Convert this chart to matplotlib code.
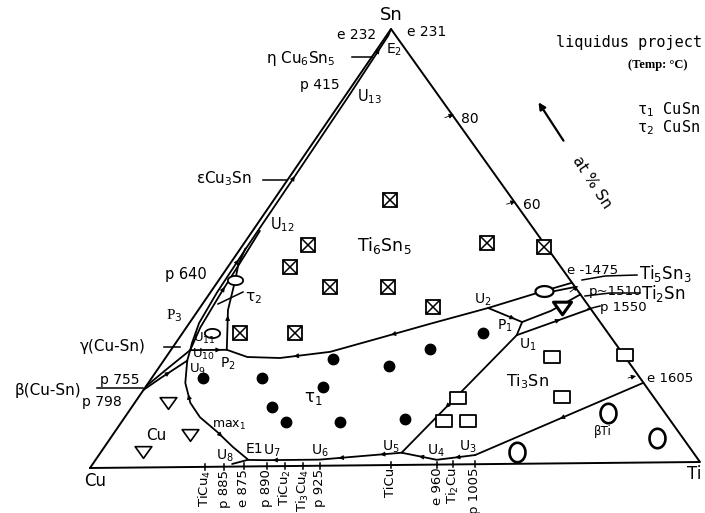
import numpy as np
import matplotlib
matplotlib.use("Agg")
import matplotlib.pyplot as plt
from matplotlib.path import Path

# ---------------- data (compositions in at.% : Ti, Sn) ----------------
tau1_ti = [8.5, 18.2, 27.8, 37.8, 42.6, 49.6, 29.3, 23.1, 27.1, 36.1, 46.4]
tau1_sn = [20.4, 20.3, 24.4, 22.7, 26.5, 30.1, 18.0, 13.6, 10.1, 10.0, 10.5]

ti6sn5_ti = [19.2, 40.1, 49.9, 10.7, 10.3, 19.1, 28.7, 38.4, 9.5, 18.6]
ti6sn5_sn = [60.8, 50.7, 49.7, 50.6, 45.6, 41.0, 40.8, 36.2, 30.6, 30.5]

ti3sn_ti = [63.7, 75.5, 69.9, 52.8, 53.1, 57.1]
ti3sn_sn = [24.4, 24.7, 15.2, 15.2, 10.0, 9.9]

cu_ti = [5.5, 12.8, 6.9]
cu_sn = [14.7, 7.3, 3.6]

ti2sn_ti = [59.8]
ti2sn_sn = [35.6]

bti_ti = [68.7, 79.3, 90.2]
bti_sn = [2.7, 11.4, 5.6]

tau2_ti = [2.7, 4.9]
tau2_sn = [42.8, 30.7]

ti5sn3_ti = [54.9]
ti5sn3_sn = [39.6]

# univariant lines (Ti, Sn)
line_e2_ti = [2.7, 1.6, 1.1, 0.9, 0.8, 0.6, 0.3, 0.0]
line_e2_sn = [28.4, 33.0, 40.0, 50.0, 65.0, 85.0, 98.5, 100.0]
line_u12_ti = [3.2, 2.3, 1.8, 1.5, 1.2]
line_u12_sn = [26.8, 32.0, 40.0, 48.0, 54.0]
tau2_line_ti = [9.2, 4.9, 2.7, 1.5, 0.8]
tau2_line_sn = [26.8, 35.9, 42.8, 46.2, 50.0]
p755_ti = [0.0, 1.5, 3.9]
p755_sn = [17.8, 20.5, 24.4]
p798_ti = [0.0, 1.4, 3.2]
p798_sn = [18.6, 22.3, 26.8]
u9_u11_ti = [3.9, 3.2, 2.7]
u9_u11_sn = [24.4, 26.8, 28.4]
u10_p2_ti = [3.2, 9.2]
u10_p2_sn = [26.8, 26.8]
max1_ti = [3.9, 6.1, 9.2, 12.4, 16.9, 21.2, 25.1]
max1_sn = [24.4, 19.3, 14.7, 11.4, 8.0, 4.5, 1.6]
bottom_ti = [23.0, 25.1, 28.1, 36.9, 49.7, 56.3, 62.1]
bottom_sn = [0.6, 1.5, 1.4, 1.4, 2.8, 1.1, 2.1]
u5_u1_ti = [49.7, 55.4]
u5_u1_sn = [2.8, 29.5]
u1_p1_ti = [55.4, 54.8]
u1_p1_sn = [29.5, 32.5]
u2_p1_ti = [47.6, 54.8]
u2_p1_sn = [35.8, 32.5]
p2_e1475_ti = [9.2, 13.4, 18.9, 26.5, 33.2, 39.8, 47.6, 54.9, 58.6]
p2_e1475_sn = [26.8, 25.1, 24.8, 26.1, 29.2, 32.3, 35.8, 39.6, 41.4]
ti5sn3_b_ti = [55.6, 59.5]
ti5sn3_b_sn = [39.2, 40.4]
p1_p1510_ti = [54.8, 58.3, 61.3]
p1_p1510_sn = [32.5, 35.0, 38.7]
u1_p1550_ti = [55.4, 64.6]
u1_p1550_sn = [29.5, 35.4]
u3_e1605_ti = [62.1, 81.7]
u3_e1605_sn = [2.1, 18.3]

# Cu-Ti binary points labelled below the base (Ti at.%)
base_labels = ["TiCu$_4$", "p 885", "e 875", "p 890", "TiCu$_2$", "Ti$_3$Cu$_4$",
               "p 925", "TiCu", "e 960", "Ti$_2$Cu", "p 1005"]
base_ti = [18.9, 22.0, 25.2, 29.0, 32.0, 34.9, 37.7, 49.3, 56.9, 59.5, 63.1]

# Sn-Ti side scale
scale_sn = [80, 60]

# ---------------- geometry ----------------
CU = (90.0, 468.0)
TI = (700.0, 462.0)
SN = (391.0, 29.0)


def tern(ti, sn):
    ti = np.asarray(ti, float) / 100.0
    sn = np.asarray(sn, float) / 100.0
    x = CU[0] + ti * (TI[0] - CU[0]) + sn * (SN[0] - CU[0])
    y = CU[1] + ti * (TI[1] - CU[1]) + sn * (SN[1] - CU[1])
    return x, y


fig = plt.figure(figsize=(7.05, 5.13), dpi=100)
ax = fig.add_axes([0, 0, 1, 1])
ax.set_xlim(0, 705)
ax.set_ylim(513, 0)
ax.axis("off")

LW = 1.3
K = "black"


def head(px, py, qx, qy, ms=7):
    ax.annotate("", xy=(qx, qy), xytext=(px, py),
                arrowprops=dict(arrowstyle="-|>", color=K, lw=0.6,
                                mutation_scale=ms, shrinkA=0, shrinkB=0))


def curve(ti, sn, arrows=(), lw=LW):
    x, y = tern(ti, sn)
    ax.plot(x, y, color=K, lw=lw, solid_capstyle="round", solid_joinstyle="round")
    if arrows:
        seg = np.hypot(np.diff(x), np.diff(y))
        cum = np.r_[0, np.cumsum(seg)]
        for f, d in arrows:
            s = f * cum[-1]
            px, py = np.interp(s, cum, x), np.interp(s, cum, y)
            s2 = s + d * 3.0
            qx, qy = np.interp(s2, cum, x), np.interp(s2, cum, y)
            head(px, py, qx, qy)


# triangle edges
curve([0, 100, 0, 0], [0, 0, 100, 0], lw=1.4)

# univariant lines
curve(line_e2_ti, line_e2_sn, arrows=[(0.25, 1), (0.52, 1), (0.93, 1)])
curve(line_u12_ti, line_u12_sn, arrows=[(0.5, 1)])
curve(tau2_line_ti, tau2_line_sn, arrows=[(0.3, 1)])
curve(p755_ti, p755_sn, arrows=[(0.55, 1)])
curve(p798_ti, p798_sn)
curve(u9_u11_ti, u9_u11_sn)
curve(u10_p2_ti, u10_p2_sn, arrows=[(0.75, 1)])
curve(max1_ti, max1_sn, arrows=[(0.3, -1), (0.7, 1)])
curve(bottom_ti, bottom_sn, arrows=[(0.18, -1), (0.45, -1), (0.62, -1), (0.78, -1), (0.93, -1)])
curve(u5_u1_ti, u5_u1_sn, arrows=[(0.4, -1)])
curve(u1_p1_ti, u1_p1_sn)
curve(u2_p1_ti, u2_p1_sn, arrows=[(0.7, 1)])
curve(p2_e1475_ti, p2_e1475_sn, arrows=[(0.48, -1), (0.2, -1)])
curve(ti5sn3_b_ti, ti5sn3_b_sn)
curve(p1_p1510_ti, p1_p1510_sn)
curve(u1_p1550_ti, u1_p1550_sn, arrows=[(0.55, 1)])
curve(u3_e1605_ti, u3_e1605_sn, arrows=[(0.52, -1)])

# ---------------- symbols ----------------
x, y = tern(tau1_ti, tau1_sn)
ax.plot(x, y, "o", ms=7.5, color=K, ls="none")

x, y = tern(ti6sn5_ti, ti6sn5_sn)
ax.plot(x, y, "s", ms=10, mfc="white", mec=K, mew=1.3, ls="none")
ax.plot(x, y, "x", ms=9.5, mec=K, mew=1.1, ls="none")

rect = Path([(-1, -0.8), (1, -0.8), (1, 0.8), (-1, 0.8), (-1, -0.8)],
            [Path.MOVETO, Path.LINETO, Path.LINETO, Path.LINETO, Path.CLOSEPOLY])
x, y = tern(ti3sn_ti, ti3sn_sn)
ax.plot(x, y, marker=rect, ms=11, mfc="white", mec=K, mew=1.3, ls="none")

tri = Path([(-1, 0.7), (1, 0.7), (0, -0.7), (-1, 0.7)],
           [Path.MOVETO, Path.LINETO, Path.LINETO, Path.CLOSEPOLY])
x, y = tern(cu_ti, cu_sn)
ax.plot(x, y, marker=tri, ms=12, mfc="white", mec=K, mew=1.2, ls="none")
x, y = tern(ti2sn_ti, ti2sn_sn)
ax.plot(x, y, marker=tri, ms=13, mfc="white", mec=K, mew=2.2, ls="none")

t = np.linspace(0, 2 * np.pi, 60)
tall = Path(np.c_[0.82 * np.cos(t), np.sin(t)])
x, y = tern(bti_ti, bti_sn)
ax.plot(x, y, marker=tall, ms=14, mfc="none", mec=K, mew=1.9, ls="none")

flat = Path(np.c_[np.cos(t), 0.6 * np.sin(t)])
x, y = tern(tau2_ti, tau2_sn)
ax.plot(x, y, marker=flat, ms=11, mfc="white", mec=K, mew=1.3, ls="none")
x, y = tern(ti5sn3_ti, ti5sn3_sn)
ax.plot(x, y, marker=flat, ms=13, mfc="white", mec=K, mew=1.6, ls="none")

# ---------------- base labels and ticks ----------------
bx, by = tern(base_ti, np.zeros(len(base_ti)))
for xx, yy, lab in zip(bx, by, base_labels):
    ax.plot([xx, xx], [yy - 3, yy + 3], color=K, lw=1.1)
    ax.text(xx, yy + 3, lab, rotation=90, ha="center", va="top", fontsize=9.5)

# Sn-Ti side scale
sx, sy = tern(100 - np.array(scale_sn), scale_sn)
for xx, yy, v in zip(sx, sy, scale_sn):
    head(xx - 8, yy + 2, xx + 1, yy - 1, ms=7)
    ax.text(xx + 8, yy + 3, str(v), fontsize=10, ha="left", va="center")

# ---------------- leader lines ----------------
def seg(xs, ys, lw=1.1):
    ax.plot(xs, ys, color=K, lw=lw)

seg([352, 372], [57, 57])
seg([263, 287], [180, 180])
seg([164, 180], [347, 347])
seg([97, 143], [388, 388])
seg([218, 243], [304, 292])
seg([582, 605, 637], [280, 276, 275])
seg([585, 610, 640], [296, 293, 293])
seg([588, 600], [309, 306])

# edge arrowheads
head(570, 292, 578, 286)
head(628, 378, 636, 376)

# at % Sn arrow
ax.annotate("", xy=(537, 100), xytext=(565, 143),
            arrowprops=dict(arrowstyle="-|>", color=K, lw=1.6, mutation_scale=10))
ax.text(592, 182, "at % Sn", rotation=-57, fontsize=11, ha="center", va="center",
        rotation_mode="anchor")

# ---------------- texts ----------------
def T(x, y, s, size=10.5, ha="left", **kw):
    ax.text(x, y, s, fontsize=size, ha=ha, va="center", **kw)

T(391, 15, "Sn", 13, ha="center")
T(95, 481, "Cu", 12, ha="center")
T(694, 474, "Ti", 12, ha="center")
T(337, 35, "e 232", 10)
T(407, 32, "e 231", 10)
T(386, 50, "E$_2$", 10)
T(266, 58, "η Cu$_6$Sn$_5$", 11)
T(300, 85, "p 415", 10)
T(357, 97, "U$_{13}$", 10.5)
T(196, 179, "εCu$_3$Sn", 11)
T(270, 225, "U$_{12}$", 10.5)
T(357, 245, "Ti$_6$Sn$_5$", 12.5)
T(165, 275, "p 640", 10.5)
T(245, 298, "τ$_2$", 11)
T(166, 316, "P$_3$", 11, family="Liberation Serif")
T(80, 347, "γ(Cu-Sn)", 11)
T(15, 390, "β(Cu-Sn)", 11)
T(100, 380, "p 755", 10)
T(82, 402, "p 798", 10)
T(193, 338, "U$_{11}$", 9.5)
T(192, 354, "U$_{10}$", 9.5)
T(189, 369, "U$_9$", 9.5)
T(220, 364, "P$_2$", 10)
T(304, 398, "τ$_1$", 12)
T(146, 435, "Cu", 11)
T(212, 425, "max$_1$", 9)
T(216, 456, "U$_8$", 10)
T(246, 449, "E1", 10)
T(263, 451, "U$_7$", 10)
T(311, 451, "U$_6$", 10)
T(382, 447, "U$_5$", 10)
T(427, 451, "U$_4$", 10)
T(459, 447, "U$_3$", 10)
T(474, 300, "U$_2$", 10)
T(497, 326, "P$_1$", 10)
T(519, 345, "U$_1$", 10)
T(506, 382, "Ti$_3$Sn", 11.5)
T(594, 432, "βTi", 8.5)
T(567, 270, "e -1475", 9.5)
T(639, 273, "Ti$_5$Sn$_3$", 12)
T(589, 291, "p~1510", 9.5)
T(641, 293, "Ti$_2$Sn", 12)
T(600, 307, "p 1550", 9.5)
T(647, 378, "e 1605", 9.5)

T(556, 43, "liquidus project", 11, family="DejaVu Sans Mono")
T(628, 65, "(Temp: °C)", 9, family="Liberation Serif", fontweight="bold")
T(637, 110, "τ$_1$ CuSn", 11, family="DejaVu Sans Mono")
T(637, 128, "τ$_2$ CuSn", 11, family="DejaVu Sans Mono")

fig.savefig("out.png", dpi=100)
